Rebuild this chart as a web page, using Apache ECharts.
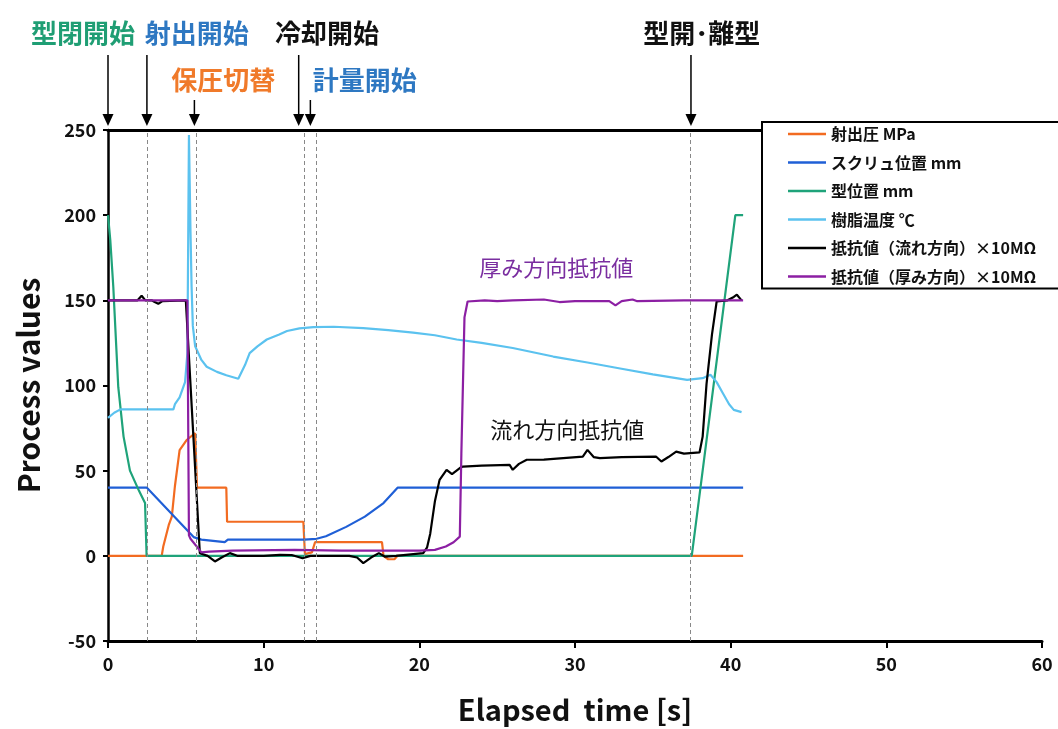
<!DOCTYPE html>
<html><head><meta charset="utf-8">
<script src="https://cdn.jsdelivr.net/npm/echarts@6/dist/echarts.min.js"></script>
<style>html,body{margin:0;padding:0;background:#fff}#c{width:1058px;height:729px}</style>
</head><body><div id="c"></div>
<script>
// ---- data ----
const seriesNames = ['射出圧 MPa','スクリュ位置 mm','型位置 mm','樹脂温度 ℃','抵抗値（流れ方向）×10MΩ','抵抗値（厚み方向）×10MΩ'];
const injPressure = [[0,0],[3.45,0],[3.55,5.5],[3.9,18],[4.1,23],[4.3,41],[4.6,62],[5.05,68],[5.6,72],[5.68,72],[5.72,40],[7.6,40],[7.65,20],[12.55,20],[12.65,1],[13.1,2],[13.3,8],[17.6,8],[17.7,0],[18.0,-2],[18.4,-2],[18.6,0],[40.8,0]];
const screwPos = [[0,40],[2.5,40],[5.5,11],[6.0,9.5],[7.5,8],[7.7,9.5],[12.6,9.5],[13.4,10],[14.0,11.5],[15.3,17],[16.5,23],[17.7,31],[18.6,40],[40.8,40]];
const moldPos = [[0,200],[0.15,185],[0.34,158],[0.66,99],[1.0,70],[1.41,50],[2.0,38],[2.38,31],[2.48,0],[37.5,0],[40.3,200],[40.8,200]];
const resinTemp = [[0,81],[0.4,84],[0.8,86],[4.2,86],[4.3,89],[4.6,93],[4.95,102],[5.1,119],[5.2,247],[5.3,190],[5.37,158],[5.45,135],[5.6,123],[6.0,115],[6.34,111],[7.0,108],[7.6,106],[8.37,104],[8.8,112],[9.1,119],[9.6,123],[10.2,127],[11.0,130],[11.5,132],[12.3,133.5],[13.2,134.3],[14.5,134.5],[16.4,133.7],[18,132.5],[19.6,131],[21,129.5],[22.4,127],[24,125],[26,122],[28.6,117],[30.8,113.5],[32.9,110],[35,106.5],[37.2,103.3],[38.2,104.3],[38.7,106.3],[39.1,102],[39.5,95.5],[39.9,89],[40.2,85.7],[40.7,84.4]];
const resistFlow = [[0,150],[1.9,150],[2.16,152.7],[2.4,150],[2.8,150],[3.0,149],[3.23,148],[3.5,149.5],[5.0,150],[5.9,1.5],[6.4,0],[6.87,-3.3],[7.3,-1],[7.83,1.6],[8.3,0],[10,0],[11.05,0.6],[11.8,0.5],[12.5,-1.4],[13,0],[15.5,0],[16.0,-1],[16.4,-4.3],[16.9,-1],[17.4,1.6],[17.8,-0.5],[18.5,0],[20.25,1.6],[20.5,5],[20.7,13],[21.0,32],[21.3,44.6],[21.75,50.5],[22.1,48],[22.6,51.5],[22.8,52.4],[24,53],[25.8,53.4],[26.0,50.5],[26.4,54],[26.9,56.4],[28,56.5],[30.5,58.3],[30.8,62.2],[31.2,58],[31.6,57.4],[33,58],[35.2,58.3],[35.55,55.4],[36,58],[36.5,61.2],[37,60],[38.0,60.7],[38.2,70],[38.45,101],[38.8,130],[39.1,149.3],[39.8,150],[40.2,152],[40.4,153.3],[40.7,150]];
const resistThick = [[0,150],[5.1,150],[5.2,12],[5.3,10],[6.0,2],[6.5,2.5],[8,3],[12,3.5],[15,3],[20,3],[21.0,3.5],[21.7,5.5],[22.2,8],[22.6,11.3],[22.7,60],[22.9,140],[23.1,149.3],[24.2,150],[25,149.5],[26,150],[28,150.5],[29,149],[30,149.5],[32.2,149.5],[32.6,147],[33,149.5],[33.7,150.5],[34,149.5],[37,150],[40.8,150]];
const xTicks = {min:0, max:60, interval:10};
const yTicks = {min:-50, max:250, interval:50};
const eventTimes = [2.5, 5.7, 12.6, 13.4, 37.4];
const arrowTimes = [0, 2.5, 5.55, 12.25, 13.0, 37.45];
const arrowLong = [true, true, false, true, false, true];
const eventLabels = ['型閉開始','射出開始','保圧切替','冷却開始','計量開始','型開･離型'];
const eventLabelT = [-1.6, 5.7, 7.4, 14.07, 16.5, 38.15];
const eventLabelRow = [0, 0, 1, 0, 1, 0];
const eventLabelColor = ['#1f9e74','#2e78c2','#f07a2a','#111','#2e78c2','#111'];
const noteTexts = ['厚み方向抵抗値','流れ方向抵抗値'];
const notePos = [[28.8,169],[29.5,74]];
const noteColor = ['#7a2ea0','#111'];
// ---- styles ----
const colors = ['#f26b21','#1f5fd6','#1fa37a','#5bc2ef','#000000','#8c1fa3'];
const FONT = '"Noto Sans CJK JP","Noto Sans",sans-serif';
const chart = echarts.init(document.getElementById('c'));
const datas = [injPressure, screwPos, moldPos, resinTemp, resistFlow, resistThick];
const series = datas.map((d,i)=>({
  name: seriesNames[i], type:'line', data:d, showSymbol:false, symbol:'none',
  lineStyle:{color:colors[i], width:2.2}, itemStyle:{color:colors[i]}, animation:false,
  clip:false
}));
series[0].markLine = {
  silent:true, symbol:'none', label:{show:false},
  lineStyle:{type:[4,3], color:'#888', width:1},
  data: eventTimes.map(t=>({xAxis:t}))
};
const axisLbl = {color:'#111', fontWeight:'bold', fontSize:18, fontFamily:FONT};
chart.setOption({
  animation:false,
  grid:{left:108, right:16, top:130, bottom:88},
  legend:{
    orient:'vertical', left:762, top:122, padding:[3,34,3,26],
    backgroundColor:'#fff', borderColor:'#000', borderWidth:2,
    icon:'rect', itemWidth:38, itemHeight:2.5, itemGap:10.5,
    textStyle:{color:'#111', fontWeight:'bold', fontSize:16, lineHeight:18, fontFamily:FONT},
    data: seriesNames
  },
  xAxis:[{
    type:'value', min:xTicks.min, max:xTicks.max, interval:xTicks.interval,
    name:'Elapsed  time [s]', nameLocation:'middle', nameGap:54,
    nameTextStyle:{color:'#111', fontWeight:'bold', fontSize:29, fontFamily:FONT},
    axisLine:{show:true, onZero:false, lineStyle:{color:'#000', width:3}},
    axisTick:{show:true, inside:false, length:7, lineStyle:{color:'#000', width:2}},
    axisLabel:Object.assign({margin:14}, axisLbl),
    splitLine:{show:false}
  },{
    type:'value', position:'top', min:xTicks.min, max:xTicks.max,
    axisLine:{show:true, onZero:false, lineStyle:{color:'#000', width:3}},
    axisTick:{show:false}, axisLabel:{show:false}, splitLine:{show:false}
  }],
  yAxis:{
    type:'value', min:yTicks.min, max:yTicks.max, interval:yTicks.interval,
    name:'Process values', nameLocation:'middle', nameGap:64,
    nameTextStyle:{color:'#111', fontWeight:'bold', fontSize:30, fontFamily:FONT},
    axisLine:{show:true, onZero:false, lineStyle:{color:'#000', width:2.5}},
    axisTick:{show:true, inside:false, length:5, lineStyle:{color:'#000', width:2}},
    axisLabel:Object.assign({margin:12}, axisLbl),
    splitLine:{show:false}
  },
  series: series
});
// ---- annotations positioned through the axes ----
const g = [];
const topY = chart.convertToPixel({gridIndex:0}, [0, yTicks.max])[1];
arrowTimes.forEach((t,i)=>{
  const x = chart.convertToPixel({gridIndex:0}, [t, yTicks.max])[0];
  const tip = topY - 4;
  const start = arrowLong[i] ? topY - 75 : topY - 30;
  g.push({type:'line', shape:{x1:x, y1:start, x2:x, y2:tip-10}, style:{stroke:'#000', lineWidth:1.5}, silent:true});
  g.push({type:'polygon', shape:{points:[[x-5.5,tip-12],[x+5.5,tip-12],[x,tip]]}, style:{fill:'#000'}, silent:true});
});
eventLabels.forEach((s,i)=>{
  const x = chart.convertToPixel({gridIndex:0}, [eventLabelT[i], yTicks.max])[0];
  const y = eventLabelRow[i] === 0 ? topY - 97 : topY - 50;
  g.push({type:'text', silent:true, style:{text:s, x:x, y:y, align:'center', verticalAlign:'middle',
    fill:eventLabelColor[i], fontSize:26, fontWeight:'bold', fontFamily:FONT}});
});
noteTexts.forEach((s,i)=>{
  const p = chart.convertToPixel({gridIndex:0}, notePos[i]);
  g.push({type:'text', silent:true, style:{text:s, x:p[0], y:p[1], align:'center', verticalAlign:'middle',
    fill:noteColor[i], fontSize:22, fontWeight:'normal', fontFamily:FONT}});
});
chart.setOption({graphic:g});
</script>
</body></html>
